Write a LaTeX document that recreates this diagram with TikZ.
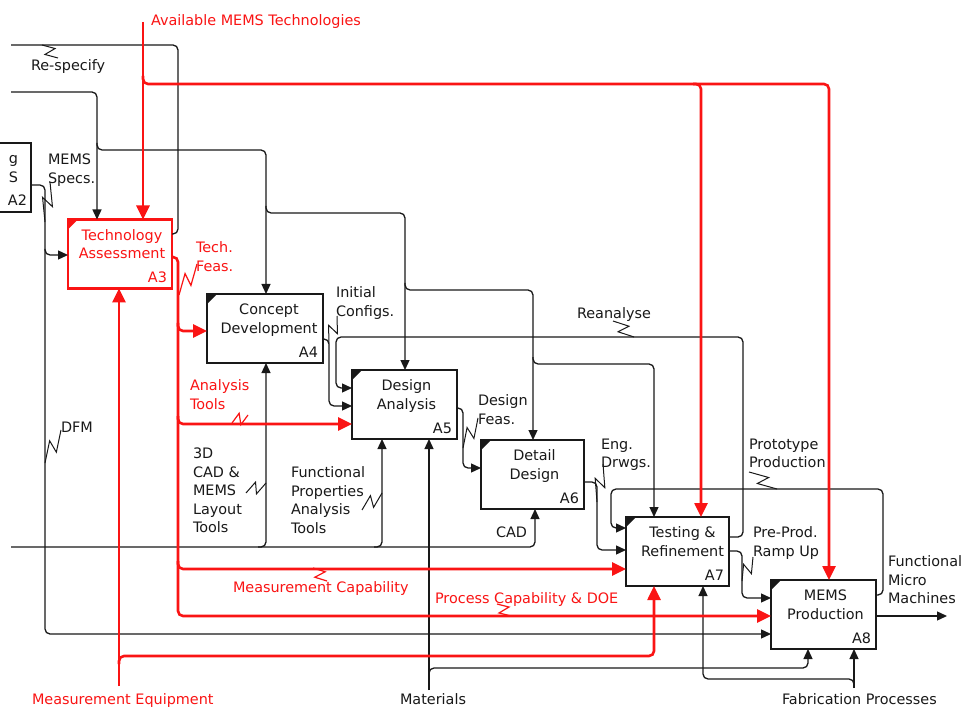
\documentclass[tikz,border=0pt]{standalone}
\usepackage{fontspec}
\setmainfont{DejaVu Sans}
\usetikzlibrary{arrows.meta,calc}
\definecolor{idefred}{RGB}{250,20,20}
\definecolor{ink}{RGB}{25,25,25}
\begin{document}
\begin{tikzpicture}[x=1pt,y=-1pt,
  every node/.style={inner sep=0pt, outer sep=0pt},
  txt/.style={font=\fontsize{14.4}{18.5}\selectfont, text=ink, align=left, anchor=north west},
  rtxt/.style={txt, text=idefred},
  fn/.style={draw=ink, line width=2.9pt, minimum height=69pt},
  rfn/.style={fn, draw=idefred},
  title/.style={font=\fontsize{14.4}{18.5}\selectfont, align=center, anchor=north, text=ink},
  rtitle/.style={title, text=idefred},
  num/.style={font=\fontsize{14.4}{18.5}\selectfont, anchor=base east, text=ink},
  rnum/.style={num, text=idefred},
  conn/.style={draw=ink, line width=1.3pt, rounded corners=5pt},
  rconn/.style={draw=idefred, line width=2.6pt, rounded corners=5pt},
  btip/.style={-{Triangle[length=10pt,width=9pt]}},
  rtip/.style={-{Triangle[length=14pt,width=13pt]}},
  squig/.style={draw=ink, line width=1pt, to path={-- ($(\tikztostart)!0.6!(\tikztotarget)!5.5pt!90:(\tikztotarget)$) -- ($(\tikztostart)!0.4!(\tikztotarget)!5.5pt!-90:(\tikztotarget)$) -- (\tikztotarget)}},
  rsquig/.style={squig, draw=idefred, line width=1.2pt}
]
\useasboundingbox (0,0) rectangle (963,708);
\fill[white] (0,0) rectangle (963,708);
\clip (0,0) rectangle (963,708);

% ---------- activity boxes ----------
\node[fn,  minimum width=103pt] (A2) at (-20.5,177.5) {};
\node[rfn, minimum width=104pt] (A3) at (120,254) {};
\node[fn,  minimum width=116pt] (A4) at (265,328.5) {};
\node[fn,  minimum width=105pt] (A5) at (404.5,404.5) {};
\node[fn,  minimum width=103pt] (A6) at (532.5,474.5) {};
\node[fn,  minimum width=103pt] (A7) at (677.5,551.5) {};
\node[fn,  minimum width=105pt] (A8) at (823.5,614.5) {};

% corner marks
\fill[idefred] (A3.north west) -- ++(10,0) -- ++(-10,10) -- cycle;
\foreach \b in {A4,A5,A6,A7,A8}
  \fill[ink] (\b.north west) -- ++(10,0) -- ++(-10,10) -- cycle;

% box titles and numbers
\node[num, anchor=base east] (A2g) at (18,164) {g};
\node[num, anchor=base east] (A2s) at (18,183) {S};
\node[num] (A2n) at ($(A2.south east)+(-4,-6)$) {A2};
\node[rtitle] (A3t) at ($(A3.north)+(2,10)$) {Technology\\Assessment};
\node[rnum] (A3n) at ($(A3.south east)+(-5,-6)$) {A3};
\node[title] (A4t) at ($(A4.north)+(4,10)$) {Concept\\Development};
\node[num] (A4n) at ($(A4.south east)+(-5,-6)$) {A4};
\node[title] (A5t) at ($(A5.north)+(2,10)$) {Design\\Analysis};
\node[num] (A5n) at ($(A5.south east)+(-5,-6)$) {A5};
\node[title] (A6t) at ($(A6.north)+(2,10)$) {Detail\\Design};
\node[num] (A6n) at ($(A6.south east)+(-5,-6)$) {A6};
\node[title] (A7t) at ($(A7.north)+(5,10)$) {Testing \&\\Refinement};
\node[num] (A7n) at ($(A7.south east)+(-5,-6)$) {A7};
\node[title] (A8t) at ($(A8.north)+(2,10)$) {MEMS\\Production};
\node[num] (A8n) at ($(A8.south east)+(-5,-6)$) {A8};

% ---------- black connectors ----------
\coordinate (specin) at (11,92);
\draw[conn,btip] (specin) -| (97,0 |- A3.north);
\draw[conn,btip] (97,143) |- (266,150) -- (266,0 |- A4.north);
\draw[conn,btip] (266,206) |- (405,213) -- (405,0 |- A5.north);
\draw[conn,btip] (405,283) |- (533,290) -- (533,0 |- A6.north);
\draw[conn,btip] (533,357) |- (654,364) -- (654,0 |- A7.north);

\coordinate (respec) at (11,45);
\draw[conn] (A3.east |- 0,234) -| (178,45) -- (respec);

\draw[conn,btip] (A2.east |- 0,185) -| (45,255) -- (A3.west |- 0,255);
\draw[conn,btip] (45,249) |- (A8.west |- 0,634);

\draw[conn,btip] (A4.east |- 0,339) -| (329,406) -- (A5.west |- 0,406);
\draw[conn,btip] (A7.east |- 0,537) -| (743,337) -| (336,388) -- (A5.west |- 0,388);
\draw[conn,btip] (A5.east |- 0,408) -| (463,468) -- (A6.west |- 0,468);
\draw[conn,btip] (A6.east |- 0,482) -| (597,550) -- (A7.west |- 0,550);
\draw[conn,btip] (A8.east |- 0,595) -| (883,489) -| (611,528) -- (A7.west |- 0,528);
\draw[conn,btip] (A7.east |- 0,551) -| (742,598) -- (A8.west |- 0,598);

\coordinate (fmm) at (947,616);
\draw[conn,btip] (A8.east |- 0,616) -- (fmm);

\coordinate (cadin) at (11,547);
\draw[conn,btip] (cadin) -| (535,0 |- A6.south);
\draw[conn,btip] (258,547) -| (266,0 |- A4.south);
\draw[conn,btip] (374,547) -| (382,0 |- A5.south);

\coordinate (matin) at (429,690);
\draw[conn,btip] (matin) -- (429,0 |- A5.south);
\draw[conn,btip] (429,676) |- (808,668) -- (808,0 |- A8.south);

\coordinate (fabin) at (854,688);
\draw[conn,btip] (fabin) -- (854,0 |- A8.south);
\draw[conn,btip] (854,686) |- (703,679) -- (703,0 |- A7.south);

% ---------- red connectors ----------
\coordinate (techin) at (143,22);
\draw[rconn,rtip] (techin) -- (143,0 |- A3.north);
\draw[rconn,rtip] (143,76) |- (829,84) -- (829,0 |- A8.north);
\draw[rconn,rtip] (693,84) -| (701,0 |- A7.north);

\coordinate (meqin) at (119,686);
\draw[rconn,rtip] (meqin) -- (119,0 |- A3.south);
\draw[rconn,rtip] (119,664) |- (654,656) -- (654,0 |- A7.south);

\draw[rconn,rtip] (A3.east |- 0,257) -| (178,616) -- (A8.west |- 0,616);
\draw[rconn,rtip] (178,323) |- (A4.west |- 0,331);
\draw[rconn,rtip] (178,416) |- (A5.west |- 0,424);
\draw[rconn,rtip] (178,561) |- (A7.west |- 0,569);

% ---------- labels ----------
\node[rtxt] (lAvail) at (151,15) {Available MEMS Technologies};
\node[txt]  (lRespec) at (31,60) {Re-specify};
\node[txt]  (lSpecs) at (48,154) {MEMS\\Specs.};
\node[rtxt] (lTech) at (196,242) {Tech.\\Feas.};
\node[rtxt] (lAnal) at (190,380) {Analysis\\Tools};
\node[txt]  (lInit) at (336,287) {Initial\\Configs.};
\node[txt]  (lCad3d) at (193,448) {3D\\CAD \&\\MEMS\\Layout\\Tools};
\node[txt]  (lFunc) at (291,467) {Functional\\Properties\\Analysis\\Tools};
\node[txt]  (lDFeas) at (478,395) {Design\\Feas.};
\node[txt]  (lRean) at (577,308) {Reanalyse};
\node[txt]  (lEng) at (601,439) {Eng.\\Drwgs.};
\node[txt]  (lProto) at (749,439) {Prototype\\Production};
\node[txt]  (lPre) at (753,527) {Pre-Prod.\\Ramp Up};
\node[txt]  (lFmm) at (888,556) {Functional\\Micro\\Machines};
\node[rtxt] (lMcap) at (233,582) {Measurement Capability};
\node[rtxt] (lPcap) at (435,593) {Process Capability \& DOE};
\node[rtxt] (lMeq) at (32,694) {Measurement Equipment};
\node[txt]  (lMat) at (400,694) {Materials};
\node[txt]  (lFab) at (782,694) {Fabrication Processes};
\node[txt]  (lCad) at (496,527) {CAD};
\node[txt]  (lDfm) at (61,422) {DFM};

% ---------- label squiggles ----------
\draw[squig] (58,58) to (42,45);
\draw[squig] (50,182) to (45,222);
\draw[squig] (61,430) to (45,463);
\draw[rsquig] (197,264) to (179,295);
\draw[rsquig] (248,415) to (232,423);
\draw[squig] (337,316) to (329,343);
\draw[squig] (246,493) to (266,483);
\draw[squig] (362,510) to (382,493);
\draw[squig] (478,418) to (463,448);
\draw[squig] (613,321) to (634,337);
\draw[squig] (603,464) to (597,502);
\draw[squig] (749,472) to (777,489);
\draw[squig] (753,557) to (742,581);
\draw[rsquig] (327,581) to (313,568);
\draw[rsquig] (497,604) to (511,616);
\end{tikzpicture}
\end{document}
